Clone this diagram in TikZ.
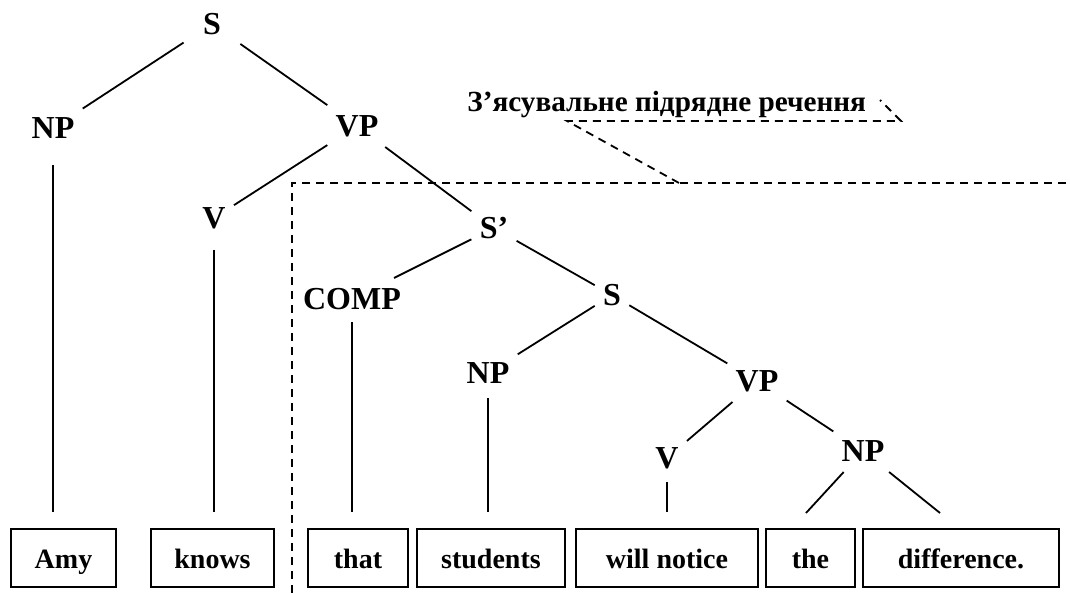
\documentclass[tikz,border=0pt]{standalone}
\usepackage{fontspec}
\setmainfont{Liberation Serif}
\begin{document}
\begin{tikzpicture}[x=0.5pt, y=-0.5pt,
    lbl/.style={inner xsep=4pt, inner ysep=5pt, text height=10.6pt, text depth=0pt, font=\bfseries\fontsize{16}{18}\selectfont},
    word/.style={draw, line width=1pt, minimum height=29pt, inner sep=0pt, text height=10pt, text depth=0pt, font=\bfseries\fontsize{14}{16}\selectfont},
    branch/.style={line width=0.9pt},
    guide/.style={line width=0.9pt, dash pattern=on 4pt off 3pt}]
    \useasboundingbox (0,0) rectangle (1070,593);

    % tree labels
    \node[lbl, minimum width=28pt] (S0) at (212,24) {S};
    \node[lbl] (NP1) at (53,128) {NP};
    \node[lbl] (VP1) at (357,126) {VP};
    \node[lbl] (V1) at (214,218) {V};
    \node[lbl] (Sbar) at (494,228) {S’};
    \node[lbl] (COMP) at (352,299) {COMP};
    \node[lbl] (S2) at (612,295) {S};
    \node[lbl] (NP2) at (488,373) {NP};
    \node[lbl] (VP2) at (757,381) {VP};
    \node[lbl] (V2) at (667,458) {V};
    \node[lbl] (NP3) at (863,451) {NP};

    % words
    \node[word, minimum width=52.5pt] (amy) at (63.5,558) {Amy};
    \node[word, minimum width=61.5pt] (knows) at (212.5,558) {knows};
    \node[word, minimum width=50pt] (that) at (358,558) {that};
    \node[word, minimum width=74pt] (students) at (491,558) {students};
    \node[word, minimum width=91pt] (notice) at (667,558) {will notice};
    \node[word, minimum width=44.5pt] (the) at (810.5,558) {the};
    \node[word, minimum width=98pt] (diff) at (961,558) {difference.};

    \coordinate (theTop) at (806,513);
    \coordinate (diffTop) at (940,513);

    % branches
    \draw[branch] (S0) -- (NP1);
    \draw[branch] (S0) -- (VP1);
    \draw[branch] (VP1) -- (V1);
    \draw[branch] (VP1) -- (Sbar);
    \draw[branch] (Sbar) -- (COMP);
    \draw[branch] (Sbar) -- (S2);
    \draw[branch] (S2) -- (NP2);
    \draw[branch] (S2) -- (VP2);
    \draw[branch] (VP2) -- (V2);
    \draw[branch] (VP2) -- (NP3);
    \draw[branch] (NP3) -- (theTop);
    \draw[branch] (NP3) -- (diffTop);
    \draw[branch, shorten <=8pt, shorten >=8pt] (NP1) -- (NP1 |- amy.north);
    \draw[branch, shorten <=5.5pt, shorten >=8pt] (V1) -- (V1 |- knows.north);
    \draw[branch, shorten <=1pt, shorten >=8pt] (COMP) -- (COMP |- that.north);
    \draw[branch, shorten <=2pt, shorten >=8pt] (NP2) -- (NP2 |- students.north);
    \draw[branch, shorten <=1.5pt, shorten >=8pt] (V2) -- (V2 |- notice.north);

    % subordinate clause
    \node[anchor=base west, inner sep=0pt, font=\bfseries\fontsize{14.6}{17}\selectfont] (note) at (467,112) {З’ясувальне підрядне речення};
    \coordinate (bend) at (679,183);
    \draw[guide] (292,593) -- (292,183) -- (1070,183);
    \draw[guide] (bend) -- (567,121) -- (901,121) -- (880,100);
\end{tikzpicture}
\end{document}
